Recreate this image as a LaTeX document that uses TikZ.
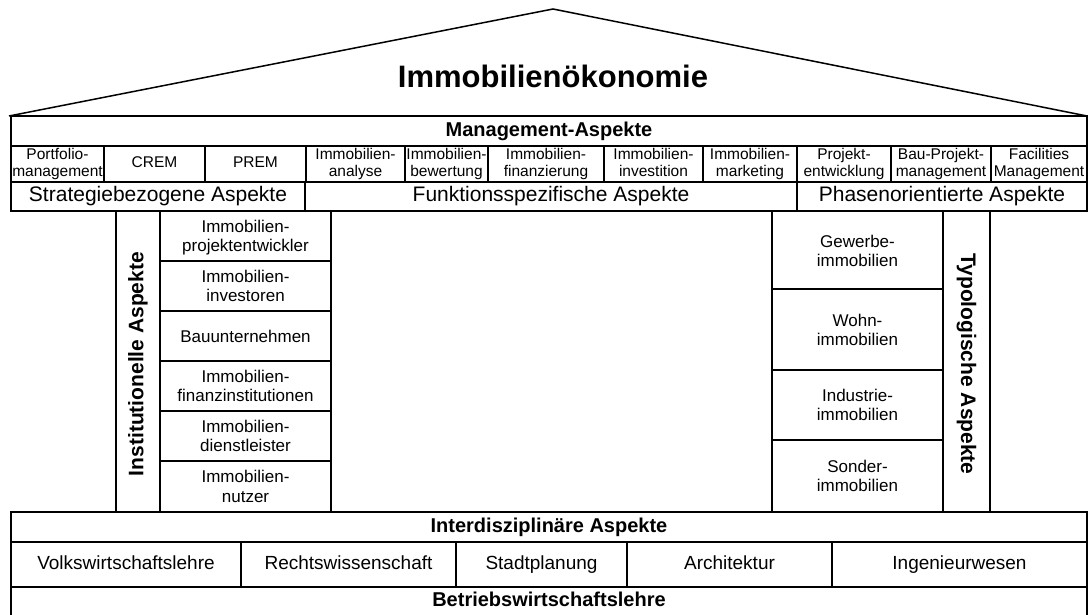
\documentclass[tikz,border=0pt]{standalone}
\usepackage{fontspec}
\setmainfont{Liberation Sans}

\begin{document}
\begin{tikzpicture}[x=1pt,y=-1pt,line width=1.5pt,
    every node/.style={align=center,inner sep=0pt},
    sub/.style={font=\fontsize{15.5}{16.5}\selectfont,text depth=3.5pt},
    akt/.style={font=\fontsize{17}{19.5}\selectfont,text depth=4pt},
    asp/.style={font=\fontsize{21}{24}\selectfont,text depth=4.5pt},
    fach/.style={font=\fontsize{19}{22}\selectfont,text depth=4pt},
    head/.style={font=\bfseries\fontsize{20}{24}\selectfont,text depth=4.2pt},
    vert/.style={font=\bfseries\fontsize{21}{24}\selectfont,text depth=4.5pt}]
    \useasboundingbox (0,0) rectangle (1089,614);
    % Dach
    \draw (9,116) -- (553,9) -- (1087,116);
    \node[font=\bfseries\fontsize{31}{36}\selectfont] (titel) at (553,76) {Immobilienökonomie};
    % Management-Aspekte
    \draw (11,116) rectangle (1087,211);
    \draw (11,146) -- (1087,146) (11,182) -- (1087,182);
    \foreach \x in {104,205,306,405,488,604,703,797,891,991} \draw (\x,146) -- (\x,182);
    \draw (305,182) -- (305,211) (797,182) -- (797,211);
    \node[head] (mgmt) at (549,131) {Management-Aspekte};
    \node[sub] (portfolio) at (57.5,164) {Portfolio-\\management};
    \node[sub] (crem) at (154.5,164) {CREM};
    \node[sub] (prem) at (255.5,164) {PREM};
    \node[sub] (analyse) at (355.5,164) {Immobilien-\\analyse};
    \node[sub] (bewertung) at (446.5,164) {Immobilien-\\bewertung};
    \node[sub] (finanz) at (546,164) {Immobilien-\\finanzierung};
    \node[sub] (invest) at (653.5,164) {Immobilien-\\investition};
    \node[sub] (marketing) at (750,164) {Immobilien-\\marketing};
    \node[sub] (projekt) at (844,164) {Projekt-\\entwicklung};
    \node[sub] (bauprojekt) at (941,164) {Bau-Projekt-\\management};
    \node[sub] (fm) at (1039,164) {Facilities\\Management};
    \node[asp] (strategie) at (158,196.5) {Strategiebezogene Aspekte};
    \node[asp] (funktion) at (551,196.5) {Funktionsspezifische Aspekte};
    \node[asp] (phasen) at (942,196.5) {Phasenorientierte Aspekte};
    % Institutionelle Aspekte
    \draw (116,211) rectangle (160,512) (160,211) rectangle (331,512);
    \foreach \y in {261,311,361,411,461} \draw (160,\y) -- (331,\y);
    \node[vert,rotate=90] (institution) at (138,364) {Institutionelle Aspekte};
    \node[akt] (entwickler) at (245.5,238) {Immobilien-\\projektentwickler};
    \node[akt] (investoren) at (245.5,288) {Immobilien-\\investoren};
    \node[akt] (bau) at (245.5,338) {Bauunternehmen};
    \node[akt] (finanzinst) at (245.5,388) {Immobilien-\\finanzinstitutionen};
    \node[akt] (dienst) at (245.5,438) {Immobilien-\\dienstleister};
    \node[akt] (nutzer) at (245.5,488.5) {Immobilien-\\nutzer};
    % Typologische Aspekte
    \draw (772,211) rectangle (943,512) (943,211) rectangle (990,512);
    \foreach \y in {289,370,440} \draw (772,\y) -- (943,\y);
    \node[vert,rotate=-90] (typologie) at (966.5,364) {Typologische Aspekte};
    \node[akt] (gewerbe) at (857.5,253) {Gewerbe-\\immobilien};
    \node[akt] (wohn) at (857.5,332) {Wohn-\\immobilien};
    \node[akt] (industrie) at (857.5,407) {Industrie-\\immobilien};
    \node[akt] (sonder) at (857.5,478) {Sonder-\\immobilien};
    % Interdisziplinaere Aspekte
    \draw (11,512) rectangle (1087,618);
    \draw (11,542) -- (1087,542) (11,587) -- (1087,587);
    \foreach \x in {241,456,627,832} \draw (\x,542) -- (\x,587);
    \node[head] (inter) at (549,527) {Interdisziplinäre Aspekte};
    \node[fach] (vwl) at (126,564.5) {Volkswirtschaftslehre};
    \node[fach] (recht) at (348.5,564.5) {Rechtswissenschaft};
    \node[fach] (stadt) at (541.5,564.5) {Stadtplanung};
    \node[fach] (archi) at (729.5,564.5) {Architektur};
    \node[fach] (ing) at (959.5,564.5) {Ingenieurwesen};
    \node[head] (bwl) at (549,601) {Betriebswirtschaftslehre};
\end{tikzpicture}
\end{document}
